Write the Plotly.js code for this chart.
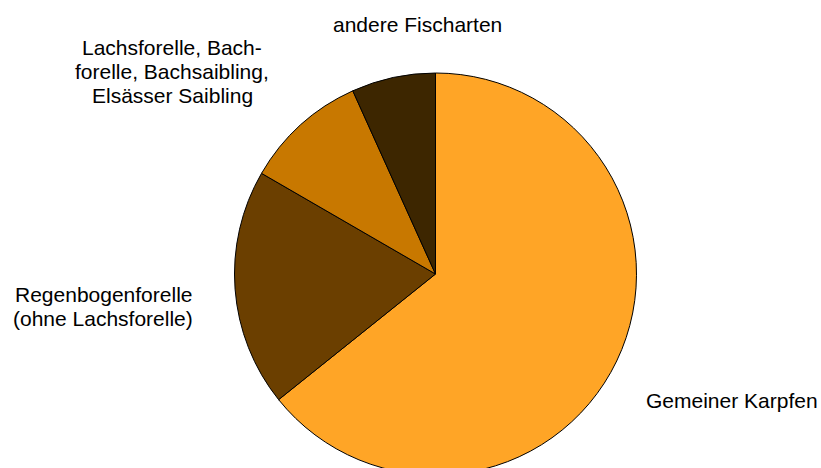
<!DOCTYPE html>
<html>
<head>
<meta charset="utf-8">
<script src="https://cdn.plot.ly/plotly-3.0.1.min.js"></script>
<style>
html,body{margin:0;padding:0;overflow:hidden;background:#fff;}
#chart{width:821px;height:548px;}
</style>
</head>
<body>
<div id="chart"></div>
<script>
const labels = ["Gemeiner Karpfen", "Regenbogenforelle<br>(ohne Lachsforelle)", "Lachsforelle, Bach-<br>forelle, Bachsaibling,<br>Elsässer Saibling", "andere Fischarten"];
const values = [64.25, 19.1, 9.9, 6.75];
const colors = ["#FFA526", "#6B3F00", "#C87800", "#3D2600"];

const W = 821, H = 548;
const cx = 435.5, cy = 274, r = 201;
// label anchor points in pixels (centre of first line), layout only
const labelPos = [[732, 400.5], [103, 294], [172, 47.5], [417.5, 24.5]];
const lineGap = 24;

const trace = {
  type: "pie",
  values: values,
  labels: labels,
  sort: false,
  direction: "clockwise",
  rotation: 0,
  textinfo: "none",
  hoverinfo: "label+percent",
  marker: {colors: colors, line: {color: "#000000", width: 1}},
  domain: {x: [(cx - r) / W, (cx + r) / W], y: [1 - (cy + r) / H, 1 - (cy - r) / H]},
  showlegend: false
};

const annotations = [];
labels.forEach((t, i) => {
  t.split("<br>").forEach((line, j) => {
    annotations.push({
      text: line,
      xref: "paper", yref: "paper",
      x: labelPos[i][0] / W, y: 1 - (labelPos[i][1] + j * lineGap) / H,
      xanchor: "center", yanchor: "middle",
      showarrow: false,
      align: "center",
      font: {family: "Liberation Sans, Arial, sans-serif", size: 21, color: "#000000"}
    });
  });
});

const layout = {
  width: W, height: H,
  margin: {l: 0, r: 0, t: 0, b: 0},
  paper_bgcolor: "#ffffff",
  plot_bgcolor: "#ffffff",
  showlegend: false,
  annotations: annotations
};

Plotly.newPlot("chart", [trace], layout, {displayModeBar: false, staticPlot: true});
</script>
</body>
</html>
